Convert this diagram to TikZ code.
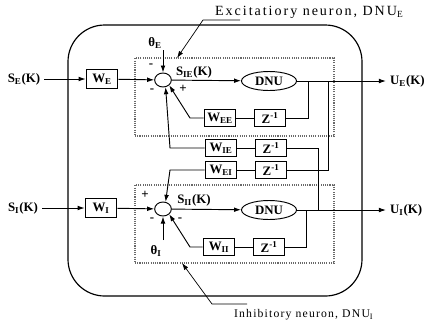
\documentclass[tikz,border=0pt]{standalone}
\usepackage{fontspec}
\setmainfont{Liberation Serif}
\newfontfamily\capfontE{Liberation Serif}[LetterSpace=14]
\newfontfamily\capfontI{Liberation Serif}[LetterSpace=10]
\usetikzlibrary{arrows.meta,positioning,shapes.geometric,calc}
\definecolor{boxgray}{RGB}{105,105,105}
\newcommand{\lo}[1]{\textsubscript{#1}}

\begin{document}
\begin{tikzpicture}[
  x=0.03cm,y=-0.03cm,
  font=\fontsize{11}{13}\selectfont\bfseries,
  blk/.style={draw,line width=0.8pt,minimum width=0.95cm,minimum height=0.5cm,inner sep=1pt},
  sumj/.style={draw,ellipse,line width=0.8pt,minimum width=0.5cm,minimum height=0.42cm,inner sep=0pt},
  dnu/.style={draw,ellipse,line width=0.8pt,minimum width=1.65cm,minimum height=0.57cm,inner sep=0pt},
  neuron/.style={draw=boxgray,densely dotted,line width=0.9pt,minimum width=5.97cm,minimum height=2.34cm},
  arr/.style={-{Latex[length=6pt,width=4pt]},line width=0.8pt},
  ln/.style={line width=0.8pt},
  capE/.style={font=\capfontE\fontsize{12}{14}\selectfont,anchor=west},
  capI/.style={font=\capfontI\fontsize{10}{12}\selectfont,anchor=west}
]
  \useasboundingbox (0,0) rectangle (431,324);

  % outer frame
  \draw[line width=1pt,rounded corners=1.1cm] (68,25) rectangle (362,296);

  % neuron boxes
  \node[neuron] (boxE) at (234.5,97) {};
  \node[neuron] (boxI) at (234.5,224) {};

  % Excitatory neuron
  \node (sE) at (24,79) {S\lo{E}(K)};
  \node[blk,minimum height=0.57cm] (wE) at (102,79) {W\lo{E}};
  \node[sumj] (sumE) at (163,80) {};
  \node (thE) at (155,43) {θ\lo{E}};
  \coordinate (tE) at (163,50);
  \node[dnu] (dnuE) at (269,81) {DNU};
  \node[blk] (wEE) at (220,118) {W\lo{EE}};
  \node[blk] (zEE) at (270,118) {Z\textsuperscript{-1}};
  \node[anchor=west] (uE) at (386,81) {U\lo{E}(K)};
  \node at (194,72) {S\lo{IE}(K)};
  \node at (151,66) {-};
  \node at (152,91) {-};
  \node at (183,89) {+};

  % cross connections
  \node[blk] (wIE) at (221,148) {W\lo{IE}};
  \node[blk] (zIE) at (271,148) {Z\textsuperscript{-1}};
  \node[blk] (wEI) at (221,170) {W\lo{EI}};
  \node[blk] (zEI) at (271,170) {Z\textsuperscript{-1}};

  % Inhibitory neuron
  \node (sI) at (23,208) {S\lo{I}(K)};
  \node[blk,minimum height=0.57cm] (wI) at (101,208) {W\lo{I}};
  \node[sumj] (sumI) at (163,209) {};
  \node (thI) at (156,251) {θ\lo{I}};
  \coordinate (tI) at (163,240);
  \node[dnu] (dnuI) at (269,210) {DNU};
  \node[blk] (wII) at (219,247) {W\lo{II}};
  \node[blk] (zII) at (269,247) {Z\textsuperscript{-1}};
  \node[anchor=west] (uI) at (386,210) {U\lo{I}(K)};
  \node at (194,200) {S\lo{II}(K)};
  \node at (145,195) {+};
  \node at (152,220) {-};
  \node at (180,220) {-};

  % forward paths
  \draw[arr] (sE) -- (wE);
  \draw[arr] (wE) -- (sumE);
  \draw[arr] (tE) -- (sumE);
  \draw[arr] (sumE) -- (dnuE);
  \draw[arr] (dnuE) -- (uE);
  \draw[arr] (sI) -- (wI);
  \draw[arr] (wI) -- (sumI);
  \draw[arr] (tI) -- (sumI);
  \draw[arr] (sumI) -- (dnuI);
  \draw[arr] (dnuI) -- (uI);

  % self feedback
  \draw[ln] (308,81) |- (zEE);
  \draw[ln] (zEE) -- (wEE);
  \draw[arr] (wEE.west) -- (190,118) -- (sumE.south east);
  \draw[ln] (306,210) |- (zII);
  \draw[ln] (zII) -- (wII);
  \draw[arr] (wII.west) -- (190,247) -- (sumI.south east);

  % mutual feedback
  \draw[ln] (328,81) |- (zEI);
  \draw[ln] (zEI) -- (wEI);
  \draw[arr] (wEI.west) -- (170,170) -- (sumI.70);
  \draw[ln] (318,210) |- (zIE);
  \draw[ln] (zIE) -- (wIE);
  \draw[arr] (wIE.west) -- (170,148) -- (sumE.-70);

  % captions
  \node[capE] (capEx) at (211,12) {Excitatiory neuron, DNU\lo{E}};
  \coordinate (kE) at (240,20);
  \coordinate (bE) at (203,20);
  \coordinate (pE) at (177,58);
  \draw[arr,line width=0.6pt] (kE) -- (bE) -- (pE);
  \node[capI] (capIn) at (230,315) {Inhibitory neuron, DNU\lo{I}};
  \coordinate (kI) at (247,304);
  \coordinate (bI) at (212,304);
  \coordinate (pI) at (182,263);
  \draw[arr,line width=0.6pt] (kI) -- (bI) -- (pI);
\end{tikzpicture}
\end{document}
